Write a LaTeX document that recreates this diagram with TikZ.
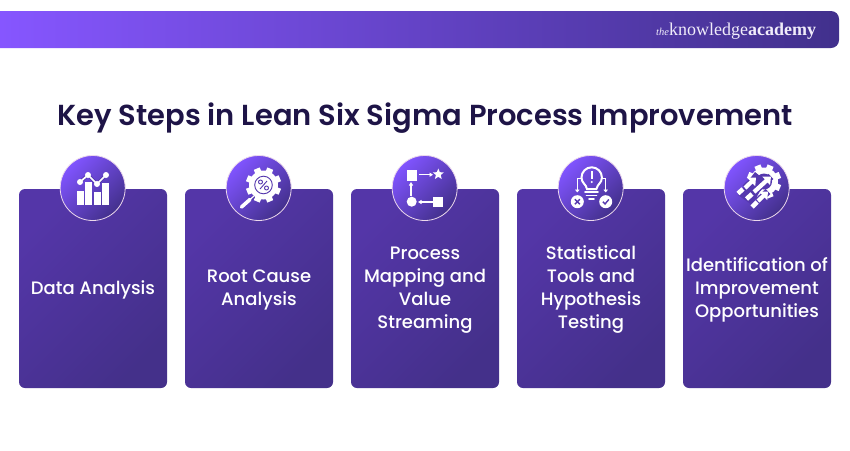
\documentclass[tikz,border=0pt]{standalone}
\usepackage{fontspec}
\setmainfont{Poppins}
\newfontfamily\pmedium{Poppins Medium}
\newfontfamily\psemi{Poppins SemiBold}
\newfontfamily\logofont{Liberation Serif}
\usetikzlibrary{arrows.meta}
\definecolor{titleink}{HTML}{1E1447}
\definecolor{logoink}{HTML}{F0ECFA}
\definecolor{iconbg}{HTML}{5538AE}
\tikzset{
  card/.style={rounded corners=6pt,minimum width=148pt,minimum height=199pt,inner sep=0pt,
    left color=cardA,right color=cardB,shading angle=45},
  cardtext/.style={text=white,align=center,inner sep=0pt,
    font=\pmedium\fontsize{18}{23}\selectfont},
  badge/.style={circle,minimum size=65pt,inner sep=0pt,draw=white!85!violet,line width=0.8pt,
    left color=badgeA,middle color=badgeM,right color=badgeB,shading angle=45},
  ic/.style={fill=white,draw=none},
  ica/.style={draw=white,line width=1.2pt,-{Triangle[length=3.5pt,width=4pt]}},
}
\definecolor{cardA}{HTML}{5436A8}
\definecolor{cardB}{HTML}{44308A}
\definecolor{badgeA}{HTML}{8054FF}
\definecolor{badgeM}{HTML}{573CB4}
\definecolor{badgeB}{HTML}{43308C}
\definecolor{barA}{HTML}{8656FF}
\definecolor{barB}{HTML}{41308C}
\newcommand{\gearshape}[4]{% cx cy r color
  \foreach \a in {0,45,...,315}{
    \fill[#4,rotate around={\a+22.5:(#1,#2)}] (#1-3.2,#2-#3-3.2) rectangle (#1+3.2,#2);
  }
  \fill[#4] (#1,#2) circle[radius=#3];
}
\begin{document}
\begin{tikzpicture}[x=1pt,y=-1pt]
\useasboundingbox (0,0) rectangle (850,450);
\fill[white] (0,0) rectangle (850,450);
% banner
\shade[left color=barA,right color=barB]
  (0,11) -- (831,11) arc[start angle=90,end angle=0,x radius=8,y radius=-8] -- (839,40)
  arc[start angle=0,end angle=-90,x radius=8,y radius=-8] -- (0,48) -- cycle;
\node[anchor=base west,inner sep=0pt,text=logoink,font=\logofont] (logo) at (656,35)
  {{\itshape\fontsize{10.5}{12}\selectfont the}{\fontsize{18}{20}\selectfont knowledge}{\bfseries\fontsize{18}{20}\selectfont academy}};
% title
\node[text=titleink,font=\psemi\fontsize{28.95}{36}\selectfont,inner sep=0pt] (title) at (425,118)
  {Key Steps in Lean Six Sigma Process Improvement};
% cards
\node[card] (c1) at (93,288.5) {};
\node[card] (c2) at (259,288.5) {};
\node[card] (c3) at (425,288.5) {};
\node[card] (c4) at (591,288.5) {};
\node[card] (c5) at (757,288.5) {};
\node[cardtext] (t1) at (93,289.5) {Data Analysis};
\node[cardtext] (t2) at (259,289.5) {Root Cause\\Analysis};
\node[cardtext] (t3) at (425,290.5) {Process\\Mapping and\\Value\\Streaming};
\node[cardtext] (t4) at (591,289.5) {Statistical\\Tools and\\Hypothesis\\Testing};
\node[cardtext] (t5) at (757,289.5) {Identification of\\Improvement\\Opportunities};
% badges
\node[badge] (b1) at (92.7,188) {};
\node[badge] (b2) at (258.7,188) {};
\node[badge] (b3) at (424.7,188) {};
\node[badge] (b4) at (590.7,188) {};
\node[badge] (b5) at (756.7,188) {};
% icon 1
\foreach \x/\t in {76.5/190.5,85.3/182,94/191.5,101.8/183}{\fill[ic] (\x,\t) rectangle (\x+7,205);}
\draw[iconbg,line width=3.4pt] (80,182) -- (88,175) -- (97,184) -- (106,175);
\draw[white,line width=1.7pt] (80,182) -- (88,175) -- (97,184) -- (106,175);
\foreach \x/\y in {80/182,88/175,97/184,106/175}{\fill[ic] (\x,\y) circle[radius=3];}
% icon 2
\gearshape{263.5}{185}{14.5}{white}
\draw[iconbg,line width=0.9pt] (263.5,185) circle[radius=8.8];
\draw[iconbg,line width=0.9pt] (260.5,182) circle[radius=2];
\draw[iconbg,line width=0.9pt] (266.5,188) circle[radius=2];
\draw[iconbg,line width=0.9pt] (267,181) -- (260,189);
\draw[iconbg,line width=3pt] (254,196.5) -- (251,199);
\draw[white,line width=3.6pt,line cap=round] (241.5,207) -- (250,199.5);
\draw[white,line width=1.2pt] (250,199.5) -- (254,196);
% icon 3
\fill[ic] (406.7,170) rectangle (417.3,180.7);
\fill[ic] (433.3,196.7) rectangle (443.3,207.3);
\fill[ic] (411.7,201.7) circle[radius=5];
\fill[ic] (438.3,168.5) -- (439.8,172.2) -- (443.8,172.4) -- (440.7,175) -- (441.7,179) -- (438.3,176.8) -- (434.9,179) -- (435.9,175) -- (432.8,172.4) -- (436.8,172.2) -- cycle;
\draw[ica] (418.5,174.7) -- (433,174.7);
\draw[ica] (432.5,202) -- (418,202);
\draw[ica] (411,196) -- (411,182);
% icon 4
\draw[white,line width=2pt] (587,189) .. controls (586,184) and (581.5,183) .. (581.5,177.5)
  arc[start angle=180,end angle=0,radius=10.2,y radius=-10.2] .. controls (601.9,183) and (597.4,184) .. (596.4,189) -- cycle;
\draw[white,line width=1.8pt] (591.7,171) -- (591.7,179);
\fill[ic] (591.7,182) circle[radius=1.1];
\draw[white,line width=1.9pt,line cap=round] (585,192) -- (598,192);
\draw[white,line width=1.9pt,line cap=round] (586.5,195.5) -- (596.5,195.5);
\draw[white,line width=1.9pt,line cap=round] (589,199) -- (594,199);
\draw[white,line width=1.1pt,-{Triangle[length=3pt,width=4.5pt]}] (581,178.5) -- (577.3,178.5) -- (577.3,192.5);
\draw[white,line width=1.1pt,-{Triangle[length=3pt,width=4.5pt]}] (602,178.5) -- (605.7,178.5) -- (605.7,192.5);
\fill[ic] (577.3,201.7) circle[radius=6.5];
\fill[ic] (605.7,201.7) circle[radius=6.5];
\draw[iconbg,line width=1.4pt] (574.8,199.2) -- (579.8,204.2) (579.8,199.2) -- (574.8,204.2);
\draw[iconbg,line width=1.4pt] (602.8,201.7) -- (605,204) -- (608.8,199.5);
% icon 5
\gearshape{764}{181.5}{14}{white}
\fill[iconbg] (764,181.5) circle[radius=8];
\fill[iconbg] (755,172) -- (766,181) -- (752,205) -- (738,195) -- cycle;
\foreach \sx/\sy/\ex/\ey in {745/188/756/177.5, 754/192/771/176.5, 758/201/768/191.5}{
  \draw[iconbg,line width=7pt] (\sx,\sy) -- (\ex,\ey);
  \draw[white,line width=4.2pt,-{Triangle[length=6.5pt,width=11pt]}] (\sx,\sy) -- (\ex,\ey);
}
\foreach \sx/\sy/\ex/\ey in {738/193.5/743/189, 746.5/199/752/194, 752/207/757/202}{
  \draw[white,line width=4.6pt] (\sx,\sy) -- (\ex,\ey);
}
\end{tikzpicture}
\end{document}
